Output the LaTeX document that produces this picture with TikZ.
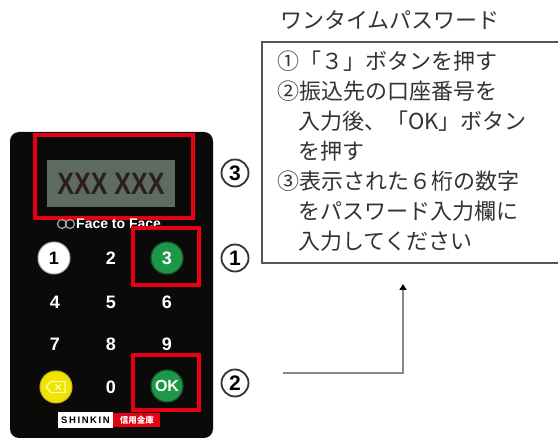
\documentclass[tikz,border=0pt]{standalone}
\usepackage{fontspec}
\usepackage{graphicx}
\setmainfont{Noto Sans CJK JP}
\newfontfamily\jpfont{Noto Sans CJK JP}
\newfontfamily\keyfont{Liberation Sans}
\usetikzlibrary{arrows.meta,calc}

\definecolor{devblack}{HTML}{0B0A08}
\definecolor{alertred}{HTML}{E50012}
\definecolor{lcdgray}{HTML}{5E6C60}
\definecolor{lcdtext}{HTML}{2A1E1E}
\definecolor{keygreen}{HTML}{1E9848}
\definecolor{keygreenrim}{HTML}{0F5A2A}
\definecolor{keyyellow}{HTML}{F0E400}
\definecolor{framegray}{HTML}{555555}
\definecolor{arrowgray}{HTML}{888888}
\definecolor{inkgray}{HTML}{333333}

\tikzset{
  devicebody/.style={draw=none, fill=devblack, rounded corners=9pt, inner sep=0pt},
  redframe/.style={draw=alertred, line width=4.5pt, inner sep=0pt},
  digitkey/.style={text=white, font=\keyfont\bfseries\fontsize{18}{18}\selectfont, inner sep=0pt},
  roundkey/.style={circle, minimum size=32pt, inner sep=0pt, font=\keyfont\bfseries\fontsize{18}{18}\selectfont},
  callout/.style={circle, draw=inkgray, line width=1.8pt, minimum size=27pt, inner sep=0pt,
                  text=black, font=\keyfont\bfseries\fontsize{21}{21}\selectfont},
  panelbox/.style={draw=framegray, line width=1.5pt, inner sep=0pt},
  jptext/.style={text=inkgray, inner sep=0pt},
}

\begin{document}
\begin{tikzpicture}[x=1pt, y=-1pt]
\useasboundingbox (0,0) rectangle (558,441);
\clip (0,0) rectangle (558,441);
\fill[white] (0,0) rectangle (558,441);

% token body
\node[devicebody, minimum width=203pt, minimum height=306pt] (device) at (111.5,285) {};

% display
\node[fill=lcdgray, minimum width=128pt, minimum height=47pt, inner sep=0pt,
      text=lcdtext, font=\keyfont\bfseries\fontsize{31}{31}\selectfont] (lcd) at (111,183.5)
      {\scalebox{0.81}[1]{XXX XXX}};
\node[redframe, minimum width=158pt, minimum height=83pt] (screenframe) at (114,176.5) {};

% brand line
\draw[gray!70, line width=1.2pt] (62,224) circle (4.5pt) (70,224) circle (4.5pt);
\node[text=white, font=\keyfont\bfseries\fontsize{14}{14}\selectfont, anchor=west, inner sep=0pt]
  (brand) at (76,224) {Face to Face};

% keypad
\node[roundkey, fill=white, draw=gray!60, line width=1pt, text=black] (k1) at (54,258) {1};
\node[digitkey] (k2) at (111,258) {2};
\node[roundkey, fill=keygreen, draw=keygreenrim, line width=1.2pt, text=white] (k3) at (167,258) {3};
\node[digitkey] (k4) at (55,302) {4};
\node[digitkey] (k5) at (111,302) {5};
\node[digitkey] (k6) at (167,302) {6};
\node[digitkey] (k7) at (55,344) {7};
\node[digitkey] (k8) at (111,344) {8};
\node[digitkey] (k9) at (167,344) {9};
\node[roundkey, fill=keyyellow, draw=yellow!70!black, line width=1pt] (kclr) at (56,387) {};
\draw[yellow!30!white, line width=1.3pt, line join=round]
  ($(kclr)+(-10,0)$) -- ($(kclr)+(-5,-5.5)$) -- ($(kclr)+(9,-5.5)$) -- ($(kclr)+(9,5.5)$) -- ($(kclr)+(-5,5.5)$) -- cycle;
\draw[yellow!30!white, line width=1.2pt] ($(kclr)+(-0.5,-2.5)$) -- ($(kclr)+(4.5,2.5)$)
  ($(kclr)+(-0.5,2.5)$) -- ($(kclr)+(4.5,-2.5)$);
\node[digitkey] (k0) at (111,387) {0};
\node[roundkey, fill=keygreen, draw=keygreenrim, line width=1.2pt, text=white,
      font=\keyfont\bfseries\fontsize{16}{16}\selectfont] (kok) at (167,386) {OK};

\node[redframe, minimum width=66pt, minimum height=57pt] (frame3) at (166,256.5) {};
\node[redframe, minimum width=66pt, minimum height=55pt] (frameok) at (166,382.5) {};

% maker badge
\node[fill=white, minimum width=55pt, minimum height=16pt, inner sep=0pt,
      font=\keyfont\bfseries\fontsize{9.5}{9.5}\selectfont] (badgeleft) at (85.5,420) {S\,H\,I\,N\,K\,I\,N};
\node[fill=alertred, minimum width=47pt, minimum height=14pt, inner sep=0pt, text=white,
      font=\jpfont\bfseries\fontsize{8.5}{8.5}\selectfont, anchor=west] (badgeright) at (badgeleft.east) {信用金庫};

% callout numbers
\node[callout] (c3) at (235,173) {3};
\node[callout] (c1) at (235,258) {1};
\node[callout] (c2) at (235,383) {2};

% instruction panel
\node[jptext, anchor=west, font=\fontsize{22}{22}\selectfont] (title) at (280,20) {ワンタイムパスワード};
\node[panelbox, minimum width=308pt, minimum height=221pt] (panel) at (416,152.5) {};
\node[jptext, anchor=north west, align=left, font=\fontsize{22}{30}\selectfont] (steps) at (277,51)
{①「３」ボタンを押す\\
②振込先の口座番号を\\
\hspace*{21pt}入力後、「OK」ボタン\\
\hspace*{21pt}を押す\\
③表示された６桁の数字\\
\hspace*{21pt}をパスワード入力欄に\\
\hspace*{21pt}入力してください};

% pointer toward the panel
\coordinate (arrowstart) at (283,373);
\coordinate (arrowtip) at (403,284);
\draw[arrowgray, line width=2.5pt, -{Triangle[length=6pt, width=7pt, color=black]}]
  (arrowstart) -| (arrowtip);
\end{tikzpicture}
\end{document}
